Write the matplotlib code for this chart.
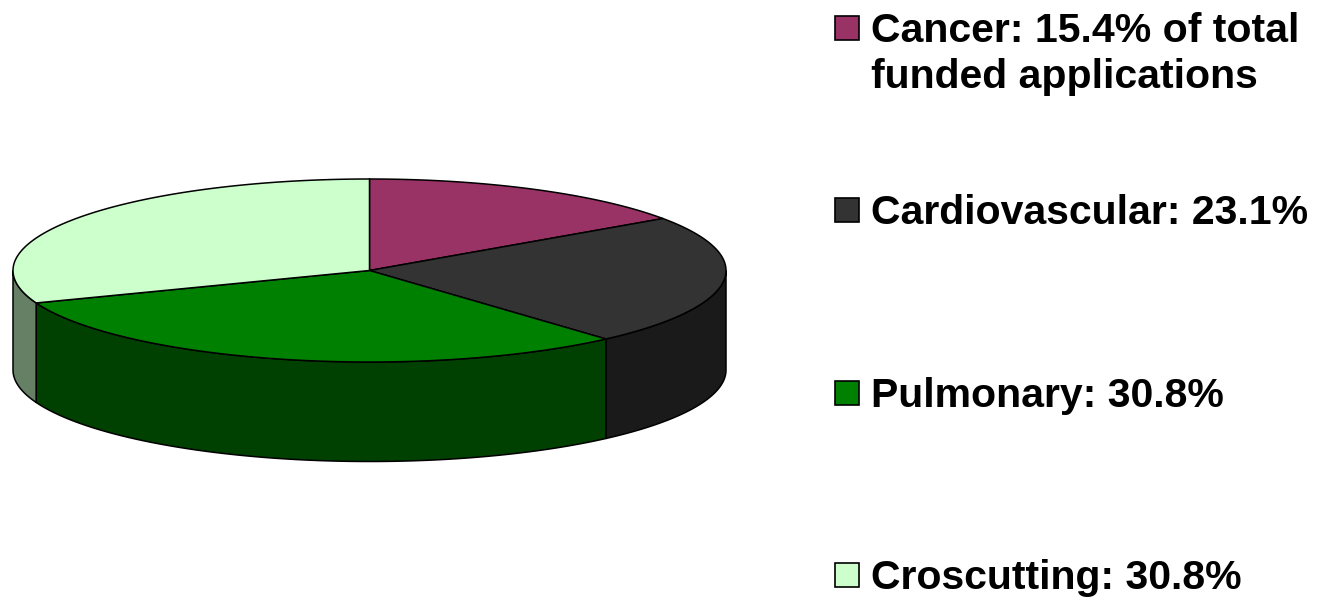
import numpy as np
import matplotlib
matplotlib.use("Agg")
import matplotlib.pyplot as plt

labels = ["Cancer: 15.4% of total\nfunded applications", "Cardiovascular: 23.1%", "Pulmonary: 30.8%", "Croscutting: 30.8%"]
values = [15.4, 23.1, 30.8, 30.8]
top_colors = ["#993366", "#333333", "#008000", "#CCFFCC"]
side_colors = ["#4d1933", "#1a1a1a", "#004000", "#668066"]

cx, cy = 369.5, 270.5
rx, ry = 356.5, 91.5
depth = 99.5
edge = "black"


def rim(a0, a1):
    # angles are clockwise from 12 o'clock
    t = np.radians(np.linspace(a0, a1, 200))
    return cx + rx * np.sin(t), cy - ry * np.cos(t)


fig = plt.figure(figsize=(13.24, 5.99), dpi=100)
ax = fig.add_axes([0, 0, 1, 1])
ax.set_xlim(0, 1324)
ax.set_ylim(599, 0)
ax.axis("off")

angles = np.cumsum([0] + values) / sum(values) * 360

# side walls first, only the part of the rim that faces front
for i in range(len(values)):
    a0 = max(angles[i], 90)
    a1 = min(angles[i + 1], 270)
    if a1 <= a0:
        continue
    x, y = rim(a0, a1)
    ax.fill(np.r_[x, x[::-1]], np.r_[y, y[::-1] + depth], facecolor=side_colors[i], edgecolor=edge, lw=1.1, zorder=2)

for i in range(len(values)):
    x, y = rim(angles[i], angles[i + 1])
    ax.fill(np.r_[cx, x], np.r_[cy, y], facecolor=top_colors[i], edgecolor=edge, lw=1.1, zorder=3)

# legend
legend_y = [28, 210, 393, 575]
baselines = [42, 224, 407, 589]
for i in range(len(labels)):
    ax.add_patch(plt.Rectangle((835, legend_y[i] - 12), 24, 24, facecolor=top_colors[i], edgecolor=edge, lw=1.2, zorder=4))
    for j, line in enumerate(labels[i].split("\n")):
        ax.text(871, baselines[i] + j * 46, line, fontsize=29.5, fontweight="bold", family="Liberation Sans", va="baseline", ha="left", color="black")

fig.savefig("out.png", dpi=100)
